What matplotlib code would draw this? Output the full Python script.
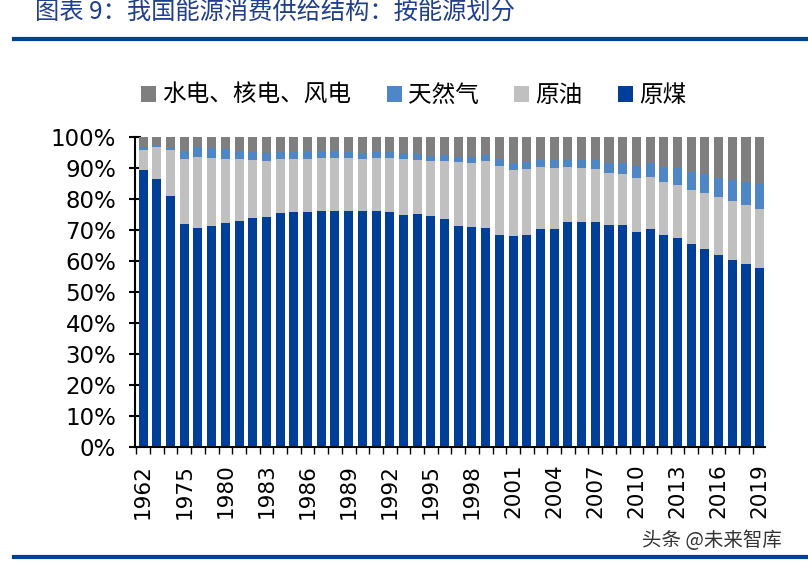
import numpy as np
import matplotlib
matplotlib.use("Agg")
import matplotlib.pyplot as plt
from matplotlib.ticker import FixedLocator, PercentFormatter

plt.rcParams["font.family"] = ["DejaVu Sans", "Noto Sans CJK SC"]

# categories (years) and shares in %
years = [1962, 1965, 1970, 1975, 1978, 1979] + list(range(1980, 2020))

coal = [89.2, 86.5, 80.9, 71.9, 70.7, 71.3,
        72.2, 72.7, 73.7, 74.2, 75.3, 75.8, 75.8, 76.2, 76.2, 76.0,
        76.2, 76.1, 75.7, 74.7, 75.0, 74.6, 73.5, 71.4, 70.9, 70.6,
        68.5, 68.0, 68.5, 70.2, 70.2, 72.4, 72.4, 72.5, 71.5, 71.6,
        69.2, 70.2, 68.5, 67.4, 65.6, 63.7, 62.0, 60.4, 59.0, 57.7]
oil = [6.6, 10.3, 14.7, 21.1, 22.7, 21.8,
       20.7, 20.0, 18.9, 18.1, 17.4, 17.1, 17.2, 17.0, 17.0, 17.1,
       16.6, 17.1, 17.5, 18.2, 17.4, 17.5, 18.7, 20.4, 20.8, 21.5,
       22.0, 21.2, 21.0, 20.1, 19.9, 17.8, 17.5, 17.0, 16.7, 16.4,
       17.4, 16.8, 17.0, 17.1, 17.4, 18.3, 18.5, 18.8, 18.9, 18.9]
gas = [0.9, 0.6, 0.9, 2.5, 3.2, 3.3,
       3.1, 2.8, 2.5, 2.4, 2.4, 2.2, 2.3, 2.1, 2.1, 2.0,
       2.1, 2.0, 1.9, 1.9, 1.9, 1.8, 1.8, 1.8, 1.8, 2.0,
       2.2, 2.4, 2.3, 2.3, 2.3, 2.4, 2.7, 3.0, 3.4, 3.5,
       4.0, 4.6, 4.8, 5.3, 5.7, 5.9, 6.2, 7.0, 7.6, 8.1]
hydro = [3.3, 2.6, 3.5, 4.5, 3.4, 3.6,
         4.0, 4.5, 4.9, 5.3, 4.9, 4.9, 4.7, 4.7, 4.7, 4.9,
         5.1, 4.8, 4.9, 5.2, 5.7, 6.1, 6.0, 6.4, 6.5, 5.9,
         7.3, 8.4, 8.2, 7.4, 7.6, 7.4, 7.4, 7.5, 8.4, 8.5,
         9.4, 8.4, 9.7, 10.2, 11.3, 12.1, 13.3, 13.8, 14.5, 15.3]

labels = ["水电、核电、风电", "天然气", "原油", "原煤"]
colors = ["#7F7F7F", "#4F86C6", "#C0C0C0", "#003F98"]

fig = plt.figure(figsize=(8.08, 5.63), dpi=100)
ax = fig.add_axes([0.167, 0.206, 0.78, 0.551])

x = np.arange(len(years))
c = np.array(coal) / 100
o = np.array(oil) / 100
g = np.array(gas) / 100
h = np.array(hydro) / 100
w = 0.66

ax.bar(x, c, w, color=colors[3], label=labels[3], zorder=2)
ax.bar(x, o, w, bottom=c, color=colors[2], label=labels[2], zorder=2)
ax.bar(x, g, w, bottom=c + o, color=colors[1], label=labels[1], zorder=2)
ax.bar(x, h, w, bottom=c + o + g, color=colors[0], label=labels[0], zorder=2)

ax.set_xlim(-0.6, len(years) - 0.6)
ax.set_ylim(0, 1)
ax.set_yticks(np.arange(0, 1.01, 0.1))
ax.yaxis.set_major_formatter(PercentFormatter(1.0, decimals=0))
ax.tick_params(axis="y", direction="inout", length=9, width=1.5, labelsize=16.5, pad=9)

ax.set_xticks(x[::3])
ax.set_xticklabels([str(y) for y in years[::3]], rotation=90, fontsize=15.5)
ax.xaxis.set_minor_locator(FixedLocator(np.arange(-0.5, len(years), 1)))
ax.tick_params(axis="x", which="major", length=0, pad=12)
ax.tick_params(axis="x", which="minor", direction="out", length=5, width=1)

for side in ["top", "right"]:
    ax.spines[side].set_visible(False)
ax.spines["left"].set_linewidth(1.5)
ax.spines["bottom"].set_linewidth(1.5)

# legend in the order shown in the picture
handles, lbls = ax.get_legend_handles_labels()
order = [3, 2, 1, 0]
fig.legend([handles[i] for i in order], [lbls[i] for i in order],
           loc="center", bbox_to_anchor=(0.512, 0.83), ncol=4, frameon=False,
           prop={"family": ["Noto Sans CJK SC"], "size": 17},
           handlelength=0.65, handleheight=0.65, handletextpad=0.25, columnspacing=1.5)

# header and footer
fig.text(0.043, 0.978, "图表 9：我国能源消费供给结构：按能源划分", color="#1F3F8F",
         fontsize=17.5, style="italic", va="center", family=["Noto Sans CJK SC"])
fig.add_artist(plt.Line2D([0.017, 1.0], [0.931, 0.931], color="#003F98", lw=3))
fig.add_artist(plt.Line2D([0.017, 1.0], [0.01, 0.01], color="#003F98", lw=3))
fig.text(0.795, 0.04, "头条 @未来智库", color="#333333", fontsize=14,
         va="center", family=["Noto Sans CJK SC"])

fig.savefig("out.png", dpi=100)
